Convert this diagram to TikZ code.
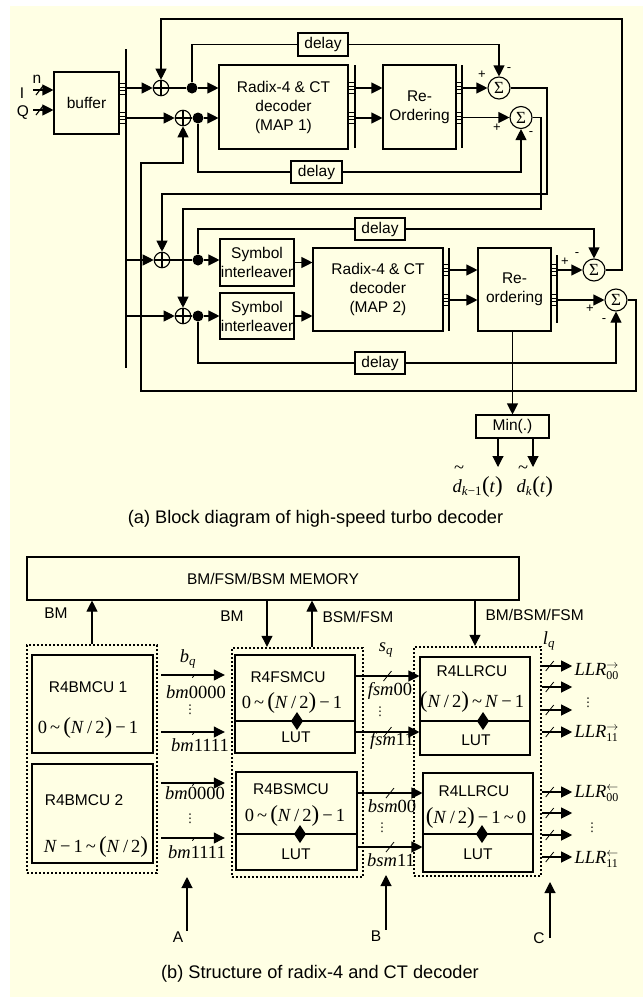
\documentclass[tikz,border=0pt]{standalone}
\usepackage{fontspec}
\setmainfont{Liberation Sans}
\newfontfamily\tms{Liberation Serif}
\newfontfamily\djv{DejaVu Sans}
\usetikzlibrary{arrows.meta,decorations.markings}

\definecolor{paper}{RGB}{255,255,228}
\newcommand{\fsz}{\fontsize{15.5}{19}\selectfont}
\newcommand{\capsz}{\fontsize{18.2}{20}\selectfont}
\newcommand{\msz}{\fontsize{18.5}{20}\selectfont}
\newcommand{\bp}[1]{{\fontsize{23}{23}\selectfont #1}}
\newcommand{\mi}[1]{\textit{#1}}
\newcommand{\rng}[1]{{\tms\msz #1}}
\newcommand{\ticks}[3]{\foreach \d in {0,3.5,7,10.5} {\draw[line width=0.8pt] (#1,#3-5.25+\d) -- (#2,#3-5.25+\d);}}
\newcommand{\kite}[1]{\fill (#1) ++(0,-9) -- ++(6,9) -- ++(-6,9) -- ++(-6,-9) -- cycle;}
\newcommand{\llr}[2]{{\tms\msz\mi{LLR}$^{#1}_{\hbox{\tms\fontsize{12}{12}\selectfont #2}}$}}

\tikzset{
  blk/.style={draw, inner sep=0pt, align=center},
  adder/.style={draw, circle, minimum size=15.5pt, inner sep=0pt,
    path picture={\draw (path picture bounding box.north) -- (path picture bounding box.south)
      (path picture bounding box.west) -- (path picture bounding box.east);}},
  sigma/.style={draw, circle, minimum size=22pt, inner sep=0pt, font=\tms\fontsize{17}{17}\selectfont},
  jdot/.style={fill, circle, minimum size=11pt, inner sep=0pt},
  arr/.style={-{Triangle[length=11pt,width=11pt]}},
  bus/.style={arr, decoration={markings, mark=at position #1 with {\draw[-,line width=0.8pt] (-4pt,-5pt) -- (4pt,5pt);}}, postaction={decorate}},
  bus/.default=0.5,
  dotbox/.style={draw, inner sep=0pt, line width=2.4pt, dash pattern=on 2.2pt off 1.8pt},
  sgn/.style={font=\fontsize{13}{13}\selectfont, inner sep=0pt},
  vdt/.style={font=\djv\fontsize{12}{12}\selectfont, inner sep=0pt},
}

\begin{document}
\begin{tikzpicture}[x=1pt,y=-1pt,line width=1.1pt,font=\fsz,inner sep=0.5pt]
\useasboundingbox (0,0) rectangle (643,1001);
\fill[paper] (10,6) rectangle (643,997);

% (a) input and buffer
\node[blk, minimum width=65pt, minimum height=62pt] (buf) at (86.5,103) {buffer};
\node (lblI) at (22,93) {I};
\node (lblQ) at (23,113) {Q};
\node (lbln) at (37,79) {n};
\coordinate (inI) at (33,90);
\coordinate (inQ) at (33,110);
\draw[arr] (inI) -- (inI -| buf.west);
\draw[arr] (inQ) -- (inQ -| buf.west);
\draw (36,95) -- (43,86);
\draw (36,115) -- (43,106);
\coordinate (busT) at (126,49);
\coordinate (busB) at (126,368);
\draw (busT) -- (busB);
\ticks{119}{126}{89} \ticks{119}{126}{118}

% (a) MAP 1
\node[blk, minimum width=129pt, minimum height=84pt] (mapA) at (283.5,107) {Radix-4 \& CT\\decoder\\(MAP 1)};
\node[blk, minimum width=73pt, minimum height=84pt] (reoA) at (419.5,107) {Re-\\Ordering};
\node[blk, minimum width=50pt, minimum height=23pt] (dlyA) at (323,44.5) {delay};
\node[blk, minimum width=51pt, minimum height=22pt] (dlyB) at (316.5,172) {delay};
\node[adder] (addA) at (161,88) {};
\node[adder] (addB) at (183,118) {};
\node[jdot] (dotA) at (192,88) {};
\node[jdot] (dotB) at (198,118) {};
\node[sigma] (sumA) at (499,88) {Σ};
\node[sigma] (sumB) at (521,117.5) {Σ};
\coordinate (barA) at (355,65);
\coordinate (barB) at (462,65);
\draw (barA) -- (355,148);
\draw (barB) -- (462,148);
\ticks{348}{355}{88} \ticks{348}{355}{118}
\ticks{456}{462}{88} \ticks{456}{462}{118}
\draw[arr] (busT |- addA) -- (addA);
\draw[arr] (busT |- addB) -- (addB);
\draw (addA) -- (dotA);
\draw (addB) -- (dotB);
\draw[arr] (dotA) -- (dotA -| mapA.west);
\draw[arr] (dotB) -- (dotB -| mapA.west);
\draw (dotA) |- (dlyA);
\draw[arr] (dlyA) -| (sumA);
\draw (dotB) |- (dlyB);
\draw[arr] (dlyB) -| (sumB);
\draw[arr] (barA |- addA) -- (addA -| reoA.west);
\draw[arr] (barA |- addB) -- (addB -| reoA.west);
\draw[arr] (barB |- sumA) -- (sumA);
\draw[arr] (barB |- sumB) -- (sumB);
\node[sgn] at (482,75) {+};
\node[sgn] at (509,70) {-};
\node[sgn] at (497,128) {+};
\node[sgn] at (531,134) {-};

% (a) MAP 2
\node[adder] (addC) at (162,260) {};
\node[adder] (addD) at (183,316) {};
\node[jdot] (dotC) at (198,260) {};
\node[jdot] (dotD) at (198,316) {};
\node[blk, minimum width=74pt, minimum height=47pt] (silA) at (257,262.5) {Symbol\\interleaver};
\node[blk, minimum width=74pt, minimum height=46pt] (silB) at (257,316) {Symbol\\interleaver};
\node[blk, minimum width=130pt, minimum height=83pt] (mapB) at (378,289.5) {Radix-4 \& CT\\decoder\\(MAP 2)};
\node[blk, minimum width=73pt, minimum height=83pt] (reoB) at (514.5,289.5) {Re-\\ordering};
\node[blk, minimum width=50pt, minimum height=22pt] (dlyC) at (380,229) {delay};
\node[blk, minimum width=50pt, minimum height=22pt] (dlyD) at (380,363) {delay};
\node[sigma] (sumC) at (594,270) {Σ};
\node[sigma] (sumD) at (616,300) {Σ};
\node[blk, minimum width=73pt, minimum height=23pt] (minb) at (512.5,426.5) {Min(.)};
\coordinate (barC) at (449,248);
\coordinate (barD) at (557,255);
\draw (barC) -- (449,331);
\draw (barD) -- (557,323);
\ticks{443}{449}{270} \ticks{443}{449}{300}
\ticks{551}{557}{270} \ticks{551}{557}{300}
\draw[arr] (busT |- addC) -- (addC);
\draw[arr] (busT |- addD) -- (addD);
\draw (addC) -- (dotC);
\draw (addD) -- (dotD);
\draw[arr] (dotC) -- (dotC -| silA.west);
\draw[arr] (dotD) -- (dotD -| silB.west);
\draw (dotC) |- (dlyC);
\draw[arr] (dlyC) -| (sumC);
\draw (dotD) |- (dlyD);
\draw[arr] (dlyD) -| (sumD);
\draw[arr] (silA) -- (silA -| mapB.west);
\draw[arr] (silB) -- (silB -| mapB.west);
\draw[arr] (barC |- sumC) -- (sumC -| reoB.west);
\draw[arr] (barC |- sumD) -- (sumD -| reoB.west);
\draw[arr] (barD |- sumC) -- (sumC);
\draw[arr] (barD |- sumD) -- (sumD);
\draw[arr] (reoB.south -| minb) -- (minb);
\node[sgn] at (565,262) {+};
\node[sgn] at (577,255) {-};
\node[sgn] at (590,309) {+};
\node[sgn] at (604,321) {-};

% feedback
\coordinate (fbA) at (547,194);
\coordinate (fbB) at (541,209);
\coordinate (fbC) at (622,19);
\coordinate (fbD) at (636,391);
\coordinate (fbE) at (141,163);
\draw[arr] (sumA) -| (fbA) -| (addC);
\draw[arr] (sumB) -| (fbB) -| (addD);
\draw[arr] (sumC) -| (fbC) -| (addA);
\draw[arr] (sumD) -| (fbD) -| (fbE) -| (addB);

% hard decisions
\coordinate (outA) at (498,467);
\coordinate (outB) at (533,467);
\draw[arr] (minb.south -| outA) -- (outA);
\draw[arr] (minb.south -| outB) -- (outB);
\node[anchor=base west, inner sep=0pt] (dkm) at (452,492) {\rng{\mi{d}\textsubscript{\mi{k}−1}\bp{(}\mi{t}\bp{)}}};
\node[anchor=base west, inner sep=0pt] (dk) at (516,492) {\rng{\mi{d}\textsubscript{\mi{k}}\bp{(}\mi{t}\bp{)}}};
\node[inner sep=0pt] (tlA) at (459,470) {\rng{\textasciitilde}};
\node[inner sep=0pt] (tlB) at (523,470) {\rng{\textasciitilde}};
\node[font=\capsz] (capA) at (315.5,519) {(a) Block diagram of high-speed turbo decoder};

% (b) memory
\node[blk, minimum width=492pt, minimum height=43pt] (mem) at (273,578.5) {BM/FSM/BSM MEMORY};
\node[dotbox, minimum width=130pt, minimum height=228pt] (grpA) at (92,759) {};
\node[dotbox, minimum width=131pt, minimum height=229pt] (grpB) at (297.5,762.5) {};
\node[dotbox, minimum width=127pt, minimum height=229pt] (grpC) at (477.5,761.5) {};
\draw[arr] (grpA.north) -- (grpA.north |- mem.south);
\draw[arr] ([xshift=-30.5pt]grpB.north |- mem.south) -- ([xshift=-30.5pt]grpB.north);
\draw[arr] ([xshift=14.5pt]grpB.north) -- ([xshift=14.5pt]grpB.north |- mem.south);
\draw[arr] ([xshift=-2.5pt]grpC.north |- mem.south) -- ([xshift=-2.5pt]grpC.north);
\node (lbmA) at (56,613) {BM};
\node (lbmB) at (232,616) {BM};
\node[anchor=west, inner sep=0pt] (lbsf) at (322,617) {BSM/FSM};
\node[anchor=west, inner sep=0pt] (lbbf) at (485,615) {BM/BSM/FSM};

% (b) units
\node[blk, minimum width=121pt, minimum height=98pt] (bmA) at (92.5,704) {};
\node[blk, minimum width=121pt, minimum height=99pt] (bmB) at (92.5,813.5) {};
\node[blk, minimum width=120pt, minimum height=98pt] (fsmu) at (295,704) {};
\node[blk, minimum width=121pt, minimum height=98pt] (bsmu) at (296.5,821) {};
\node[blk, minimum width=110pt, minimum height=98pt] (llrF) at (475,706) {};
\node[blk, minimum width=110pt, minimum height=99pt] (llrB) at (478,822.5) {};
\node (tbmA) at (88,687) {R4BMCU 1};
\node (rbmA) at (88,728) {\rng{0\,\textasciitilde\,\bp{(}\mi{N}\,/\,2\bp{)}\,−\,1}};
\node (tbmB) at (84,800) {R4BMCU 2};
\node (rbmB) at (96,847) {\rng{\mi{N}\,−\,1\,\textasciitilde\,\bp{(}\mi{N}\,/\,2\bp{)}}};
\node (tfsm) at (288,677) {R4FSMCU};
\node (rfsm) at (292,703) {\rng{0\,\textasciitilde\,\bp{(}\mi{N}\,/\,2\bp{)}\,−\,1}};
\node (lfsm) at (296,737) {LUT};
\node (tbsm) at (291,789) {R4BSMCU};
\node (rbsm) at (295,816) {\rng{0\,\textasciitilde\,\bp{(}\mi{N}\,/\,2\bp{)}\,−\,1}};
\node (lbsm) at (296,854) {LUT};
\node (tllF) at (472,671) {R4LLRCU};
\node (rllF) at (472,702) {\rng{\bp{(}\mi{N}\,/\,2\bp{)}\,\textasciitilde\,\mi{N}\,−\,1}};
\node (lllF) at (476,740) {LUT};
\node (tllB) at (474,791) {R4LLRCU};
\node (rllB) at (476,818) {\rng{\bp{(}\mi{N}\,/\,2\bp{)}\,−\,1\,\textasciitilde\,0}};
\node (lllB) at (478,854) {LUT};
\draw (fsmu.west |- 0,721) -- (fsmu.east |- 0,721);
\draw (bsmu.west |- 0,834) -- (bsmu.east |- 0,834);
\draw (llrF.west |- 0,721) -- (llrF.east |- 0,721);
\draw (llrB.west |- 0,834) -- (llrB.east |- 0,834);
\kite{297,721} \kite{300,834} \kite{483,721} \kite{482,834}

% (b) buses
\foreach \y in {675,732,783,838}
  \draw[bus, shorten <=3pt, shorten >=6pt] (grpA.east |- 0,\y) -- (grpB.west |- 0,\y);
\foreach \y in {676,732}
  \draw[bus] (fsmu.east |- 0,\y) -- (llrF.west |- 0,\y);
\foreach \y in {793,847}
  \draw[bus] (bsmu.east |- 0,\y) -- (llrB.west |- 0,\y);
\foreach \y in {666,687,710,732,792,813,835,857}
  \draw[bus=0.25] (grpC.east |- 0,\y) -- ++(30,0);
\node (lbq) at (188,659) {\rng{\mi{b}\textsubscript{\mi{q}}}};
\node (lsq) at (386,650) {\rng{\mi{s}\textsubscript{\mi{q}}}};
\node (llq) at (549,641) {\rng{\mi{l}\textsubscript{\mi{q}}}};
\node (bmx1) at (196,692) {\rng{\mi{bm}0000}};
\node (bmy1) at (200,745) {\rng{\mi{bm}1111}};
\node (bmx2) at (195,793) {\rng{\mi{bm}0000}};
\node (bmy2) at (197,852) {\rng{\mi{bm}1111}};
\node (fsx) at (390,691) {\rng{\mi{fsm}00}};
\node (fsy) at (392,741) {\rng{\mi{fsm}11}};
\node (bsx) at (392,806) {\rng{\mi{bsm}00}};
\node (bsy) at (391,860) {\rng{\mi{bsm}11}};
\node[vdt] at (190,710) {⋮};
\node[vdt] at (190,819) {⋮};
\node[vdt] at (380,712) {⋮};
\node[vdt] at (382,828) {⋮};
\node[vdt] at (588,703) {⋮};
\node[vdt] at (592,828) {⋮};
\node[anchor=base west, inner sep=0pt] (lfw0) at (574,675) {\llr{\rightarrow}{00}};
\node[anchor=base west, inner sep=0pt] (lfw1) at (574,737) {\llr{\rightarrow}{11}};
\node[anchor=base west, inner sep=0pt] (lbw0) at (574,797) {\llr{\leftarrow}{00}};
\node[anchor=base west, inner sep=0pt] (lbw1) at (574,863) {\llr{\leftarrow}{11}};

% (b) cut points
\node (lA) at (178,937) {A};
\node (lB) at (376,936) {B};
\node (lC) at (539,938) {C};
\coordinate (tipA) at (187,877);
\coordinate (tipB) at (386,875);
\coordinate (tipC) at (550,882);
\draw[arr] (tipA |- lA.north) -- (tipA);
\draw[arr] (tipB |- lB.north) -- (tipB);
\draw[arr] (tipC |- lC.center) -- (tipC);
\node[font=\capsz] (capB) at (320,974) {(b) Structure of radix-4 and CT decoder};
\end{tikzpicture}
\end{document}
